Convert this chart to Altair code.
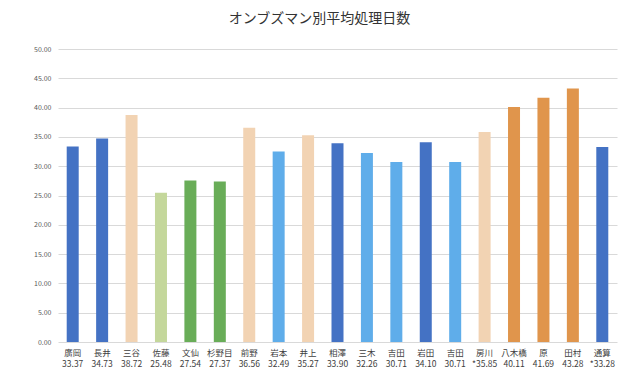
import altair as alt
import pandas as pd
import json

names = ["廣岡", "長井", "三谷", "佐藤", "文仙", "杉野目", "前野", "岩本", "井上", "相澤",
         "三木", "吉田", "岩田", "吉田", "房川", "八木橋", "原", "田村", "通算"]
values = [33.37, 34.73, 38.72, 25.48, 27.54, 27.37, 36.56, 32.49, 35.27, 33.90,
          32.26, 30.71, 34.10, 30.71, 35.85, 40.11, 41.69, 43.28, 33.28]
value_labels = ["33.37", "34.73", "38.72", "25.48", "27.54", "27.37", "36.56", "32.49", "35.27", "33.90",
                "32.26", "30.71", "34.10", "30.71", "*35.85", "40.11", "41.69", "43.28", "*33.28"]
groups = ["dark", "dark", "peach", "palegreen", "green", "green", "peach", "light", "peach", "dark",
          "light", "light", "dark", "light", "peach", "orange", "orange", "orange", "dark"]

group_domain = ["dark", "peach", "palegreen", "green", "light", "orange"]
group_colors = ["#4472C4", "#F2D3B3", "#C4D79B", "#69AD58", "#5FADEA", "#E0954C"]

df = pd.DataFrame({"i": list(range(len(names))), "v": values, "g": groups})

label_arr = json.dumps([[n, l] for n, l in zip(names, value_labels)], ensure_ascii=False)
label_expr = label_arr + "[toNumber(datum.value)]"

font = "Noto Sans CJK JP"

chart = alt.Chart(df).mark_bar(size=12).encode(
    x=alt.X("i:O", sort=None,
            axis=alt.Axis(title=None, labelExpr=label_expr, labelAngle=0, ticks=False,
                          domain=False, labelFontSize=8.5, labelColor="#404040",
                          labelLineHeight=11.5, labelPadding=6, labelFont=font)),
    y=alt.Y("v:Q", scale=alt.Scale(domain=[0, 50], nice=False),
            axis=alt.Axis(title=None, values=list(range(0, 51, 5)), format=".2f",
                          ticks=False, domain=False, labelFontSize=7, labelColor="#595959",
                          labelPadding=7, gridColor="#D9D9D9", labelFont=font)),
    color=alt.Color("g:N", scale=alt.Scale(domain=group_domain, range=group_colors), legend=None),
).properties(
    width=559, height=293,
    title=alt.Title("オンブズマン別平均処理日数", fontSize=14, fontWeight="normal",
                    color="#333333", font=font, offset=19, dx=-18),
    autosize=alt.AutoSizeParams(type="none"),
    padding={"left": 50, "top": 41, "right": 15, "bottom": 36},
).configure_view(stroke=None)

chart.save("out.html", embed_options={"renderer": "svg", "actions": False})
